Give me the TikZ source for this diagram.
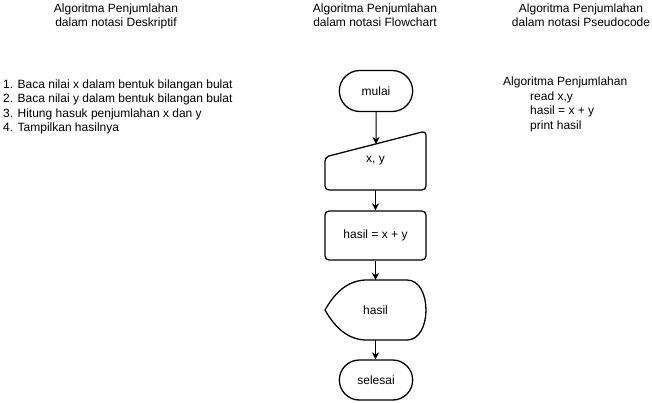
\documentclass[tikz,border=0pt]{standalone}
\usepackage{fontspec}
\setmainfont{Liberation Sans}
\usetikzlibrary{shapes.misc, arrows.meta}

\begin{document}
\begin{tikzpicture}[x=1pt, y=-1pt, font=\fontsize{12}{14.5}\selectfont,
    outline/.style={line width=1.3pt},
    terminal/.style={draw, outline, rounded rectangle, minimum width=80pt, minimum height=41pt},
    processbox/.style={draw, outline, rounded corners=4pt, minimum width=101pt, minimum height=49pt},
    plainbox/.style={minimum width=101pt, minimum height=59pt},
    heading/.style={align=center, anchor=north, inner sep=0pt},
    listing/.style={align=left, anchor=north west, inner sep=0pt},
    flow/.style={-{Stealth[length=7pt, width=7pt]}, line width=1pt}]
        \useasboundingbox (0,0) rectangle (652,402);

        % Label the three columns
        \node[heading] (desctitle) at (116,3.5) {Algoritma Penjumlahan\\dalam notasi Deskriptif};
        \node[heading] (flowtitle) at (375,3.5) {Algoritma Penjumlahan\\dalam notasi Flowchart};
        \node[heading] (pseudotitle) at (581,3.5) {Algoritma Penjumlahan\\dalam notasi Pseudocode};

        % Descriptive steps
        \node[listing] (steps) at (3,79.5) {1. Baca nilai x dalam bentuk bilangan bulat\\
            2. Baca nilai y dalam bentuk bilangan bulat\\
            3. Hitung hasuk penjumlahan x dan y\\
            4. Tampilkan hasilnya};

        % Pseudocode
        \node[listing] (pseudo) at (503,77) {Algoritma Penjumlahan\\
            \hspace*{27pt}read x,y\\
            \hspace*{27pt}hasil = x + y\\
            \hspace*{27pt}print hasil};

        % Draw the flowchart
        \node[terminal] (start) at (376,91) {mulai};

        \draw[outline, rounded corners=4pt] (325,157) -- (426,131) -- (426,190) -- (325,190) -- cycle;
        \node[plainbox] (input) at (375.5,160.5) {x, y};
        \coordinate (inputtop) at (375.5,144);

        \node[processbox] (sum) at (375.5,235.5) {hasil = x + y};

        \draw[outline] (325,310) .. controls (333,296) and (345,281) .. (365,280) -- (407,280)
            .. controls (432.3,280) and (432.3,340) .. (407,340) -- (365,340)
            .. controls (345,339) and (333,324) .. cycle;
        \node[plainbox, minimum height=60pt] (output) at (375.5,310) {hasil};

        \node[terminal, minimum height=40pt] (stop) at (376,380) {selesai};

        % Connect the steps
        \draw[flow] (start) -- (start |- inputtop);
        \draw[flow] (input) -- (sum);
        \draw[flow] (sum) -- (output);
        \draw[flow] (output) -- (output |- stop.north);
    \end{tikzpicture}
\end{document}
